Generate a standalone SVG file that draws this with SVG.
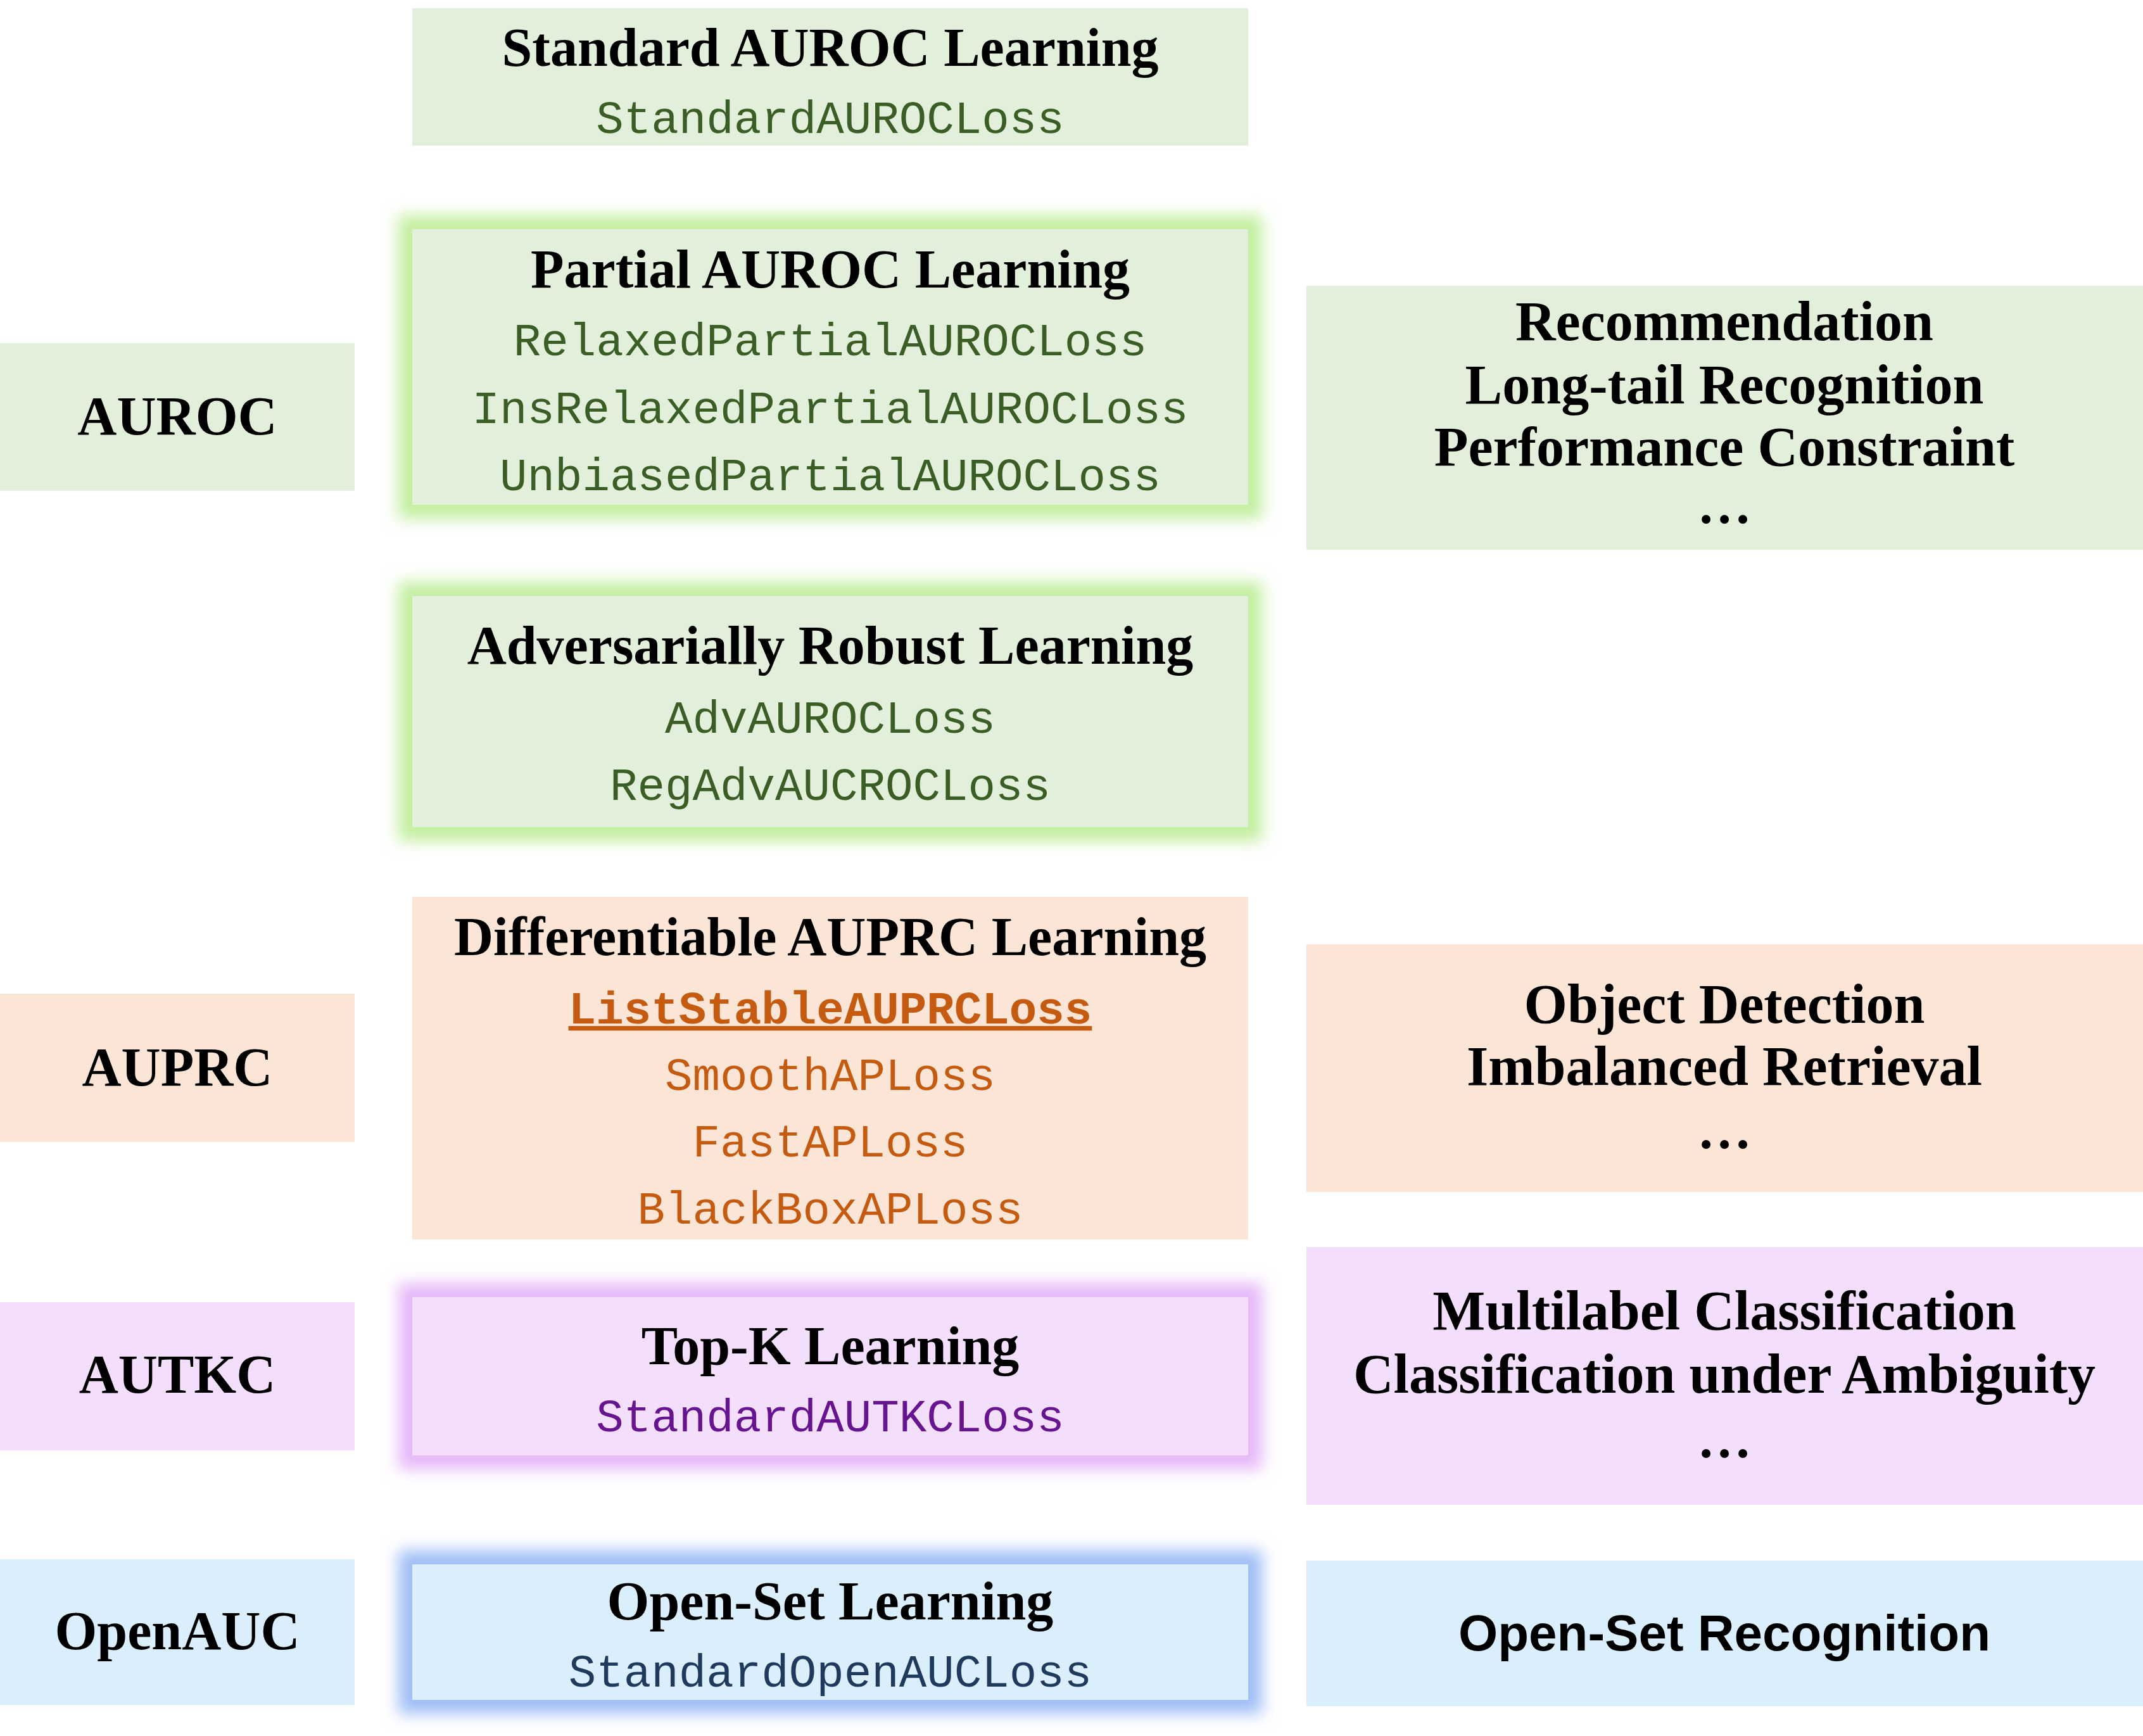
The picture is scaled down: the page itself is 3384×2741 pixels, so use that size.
<svg xmlns="http://www.w3.org/2000/svg" width="3384" height="2741" viewBox="0 0 3384 2741">
<style>
.t{font-family:"Liberation Serif","Times New Roman",serif;font-weight:bold;font-size:86px;fill:#000;text-anchor:middle}
.r{font-size:88px}
.m{font-family:"Liberation Mono","Courier New",monospace;font-size:72.5px;text-anchor:middle}
.s{font-family:"Liberation Sans",Arial,sans-serif;font-weight:bold;font-size:80px;fill:#000;text-anchor:middle}
.g{fill:#e2efda}.o{fill:#fbe5d6}.p{fill:#f3dffc}.b{fill:#daeefc}
.mg{fill:#3b5e27}.mo{fill:#c55a11}.mp{fill:#661490}.mb{fill:#1f3a5c}
</style>
<defs>
<filter id="glow" x="-20%" y="-40%" width="140%" height="180%"><feGaussianBlur stdDeviation="12"/></filter>
</defs>
<rect width="3384" height="2741" fill="#fff"/>

<!-- left column -->
<g id="auroc"><rect class="g" x="0" y="542" width="560" height="233"/><text class="t" x="280" y="686">AUROC</text></g>
<g id="auprc"><rect class="o" x="0" y="1569" width="560" height="234"/><text class="t" x="280" y="1714">AUPRC</text></g>
<g id="autkc"><rect class="p" x="0" y="2056" width="560" height="234"/><text class="t" x="280" y="2199">AUTKC</text></g>
<g id="openauc"><rect class="b" x="0" y="2462" width="560" height="230"/><text class="t" x="280" y="2604" font-size="88">OpenAUC</text></g>

<!-- middle column -->
<g id="standard-auroc">
<rect class="g" x="651" y="13" width="1320" height="217"/>
<text class="t" x="1311" y="104">Standard AUROC Learning</text>
<text class="m mg" x="1311" y="210">StandardAUROCLoss</text>
</g>
<g id="partial-auroc">
<rect x="629" y="340" width="1364" height="479" fill="#c3ee9f" filter="url(#glow)"/>
<rect class="g" x="651" y="362" width="1320" height="435"/>
<text class="t" x="1311" y="454">Partial AUROC Learning</text>
<text class="m mg" x="1311" y="561">RelaxedPartialAUROCLoss</text>
<text class="m mg" x="1311" y="668">InsRelaxedPartialAUROCLoss</text>
<text class="m mg" x="1311" y="774">UnbiasedPartialAUROCLoss</text>
</g>
<g id="adversarial">
<rect x="629" y="919" width="1364" height="409" fill="#c3ee9f" filter="url(#glow)"/>
<rect class="g" x="651" y="941" width="1320" height="365"/>
<text class="t" x="1311" y="1048" font-size="87">Adversarially Robust Learning</text>
<text class="m mg" x="1311" y="1157">AdvAUROCLoss</text>
<text class="m mg" x="1311" y="1263">RegAdvAUCROCLoss</text>
</g>
<g id="differentiable-auprc">
<rect class="o" x="651" y="1416" width="1320" height="541"/>
<text class="t" x="1311" y="1508" font-size="87.5">Differentiable AUPRC Learning</text>
<text class="m mo" x="1311" y="1616" font-weight="bold" text-decoration="underline" font-size="74">ListStableAUPRCLoss</text>
<text class="m mo" x="1311" y="1721">SmoothAPLoss</text>
<text class="m mo" x="1311" y="1826">FastAPLoss</text>
<text class="m mo" x="1311" y="1932">BlackBoxAPLoss</text>
</g>
<g id="topk">
<rect x="629" y="2026" width="1364" height="294" fill="#e5b8f8" filter="url(#glow)"/>
<rect class="p" x="651" y="2048" width="1320" height="250"/>
<text class="t" x="1311" y="2154">Top-K Learning</text>
<text class="m mp" x="1311" y="2260">StandardAUTKCLoss</text>
</g>
<g id="openset">
<rect x="629" y="2448" width="1364" height="258" fill="#9fbdf5" filter="url(#glow)"/>
<rect class="b" x="651" y="2470" width="1320" height="214"/>
<text class="t" x="1311" y="2557">Open-Set Learning</text>
<text class="m mb" x="1311" y="2663">StandardOpenAUCLoss</text>
</g>

<!-- right column -->
<g id="apps-auroc">
<rect class="g" x="2063" y="451" width="1321" height="417"/>
<text class="t r" x="2723" y="537">Recommendation</text>
<text class="t r" x="2723" y="637">Long-tail Recognition</text>
<text class="t r" x="2723" y="735">Performance Constraint</text>
<text class="t" x="2723" y="826" font-size="76">…</text>
</g>
<g id="apps-auprc">
<rect class="o" x="2063" y="1491" width="1321" height="391"/>
<text class="t r" x="2723" y="1615">Object Detection</text>
<text class="t r" x="2723" y="1713">Imbalanced Retrieval</text>
<text class="t" x="2723" y="1813">…</text>
</g>
<g id="apps-autkc">
<rect class="p" x="2063" y="1969" width="1321" height="407"/>
<text class="t r" x="2723" y="2099">Multilabel Classification</text>
<text class="t r" x="2723" y="2199">Classification under Ambiguity</text>
<text class="t" x="2723" y="2301">…</text>
</g>
<g id="apps-openauc">
<rect class="b" x="2063" y="2464" width="1321" height="230"/>
<text class="s" x="2723" y="2606">Open-Set Recognition</text>
</g>
</svg>
